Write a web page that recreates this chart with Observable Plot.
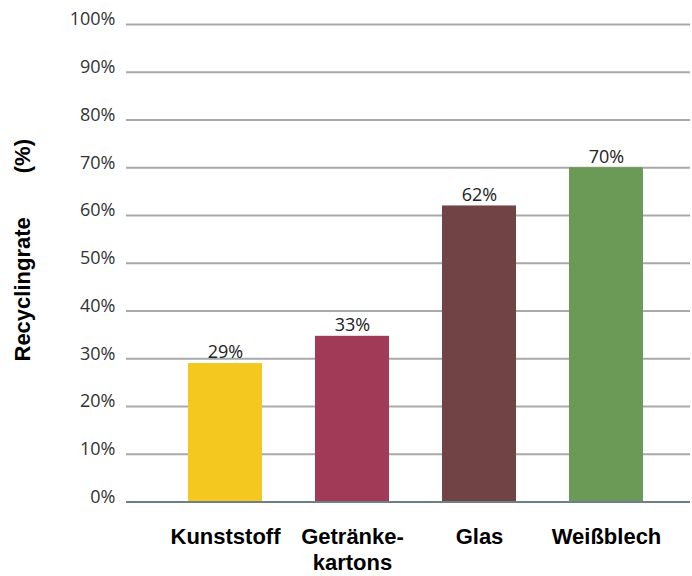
<!DOCTYPE html>
<html>
<head>
<meta charset="utf-8">
<script src="https://cdn.jsdelivr.net/npm/d3@7"></script>
<script src="https://cdn.jsdelivr.net/npm/@observablehq/plot@0.6"></script>
<style>
  html, body { margin: 0; padding: 0; background: #fff; }
  #chart svg { display: block; }
</style>
</head>
<body>
<div id="chart"></div>
<script>
const categories = ["Kunststoff", "Getränke-\nkartons", "Glas", "Weißblech"];
const values = [29, 34.7, 62, 70];
const valueLabels = ["29%", "33%", "62%", "70%"];
const colors = ["#F5C81F", "#A03A56", "#714345", "#6A9A56"];
const yTicks = [0, 10, 20, 30, 40, 50, 60, 70, 80, 90, 100];
const yTitle = "Recyclingrate\u2003\u2003(%)";

const data = categories.map((c, i) => ({cat: c, value: values[i], label: valueLabels[i], color: colors[i]}));

const chart = Plot.plot({
  width: 692,
  height: 576,
  marginLeft: 126,
  marginRight: 2,
  marginTop: 24,
  marginBottom: 74.5,
  x: {domain: categories, range: [160, 670], paddingInner: 0.42, paddingOuter: 0.21},
  y: {domain: [0, 100]},
  style: {background: "#fff"},
  marks: [
    Plot.ruleY(yTicks.filter(d => d > 0), {stroke: "#a8a9ab", strokeWidth: 2}),
    Plot.barY(data, {x: "cat", y: "value", fill: "color"}),
    Plot.ruleY([0], {stroke: "#6f7f88", strokeWidth: 2}),
    Plot.text(data, {x: "cat", y: "value", text: "label", dy: -11, fontSize: 18, fill: "#222", fontFamily: "Open Sans"}),
    Plot.axisY({ticks: yTicks, tickFormat: d => d + "%", tickSize: 0, tickPadding: 11, dy: -5, fontSize: 18, fill: "#333", fontFamily: "Open Sans", label: null}),
    Plot.axisX({tickSize: 0, tickPadding: 24, fontSize: 22, fontWeight: "bold", fill: "#000", fontFamily: "Liberation Sans, Arial, sans-serif", lineHeight: 1.18, label: null, lineAnchor: "top"}),
    Plot.text([yTitle], {frameAnchor: "left", textAnchor: "middle", dx: -104, dy: -13, rotate: -90, fontSize: 22, fontWeight: "bold", fill: "#000", fontFamily: "Liberation Sans, Arial, sans-serif"})
  ]
});
document.getElementById("chart").appendChild(chart);
</script>
</body>
</html>
